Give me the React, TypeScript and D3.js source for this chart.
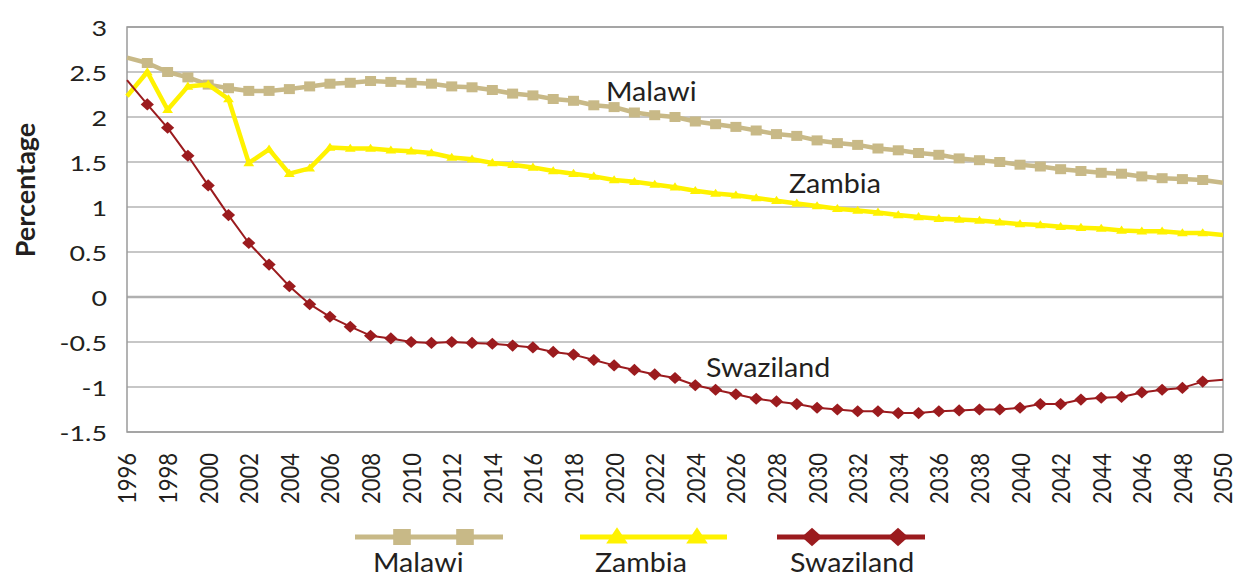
import React from "react";
import * as d3 from "d3";

const years = [
  1996, 1997, 1998, 1999, 2000, 2001, 2002, 2003, 2004, 2005, 2006, 2007, 2008, 2009,
  2010, 2011, 2012, 2013, 2014, 2015, 2016, 2017, 2018, 2019, 2020, 2021, 2022, 2023,
  2024, 2025, 2026, 2027, 2028, 2029, 2030, 2031, 2032, 2033, 2034, 2035, 2036, 2037,
  2038, 2039, 2040, 2041, 2042, 2043, 2044, 2045, 2046, 2047, 2048, 2049, 2050,
];

const malawi = [
  2.66, 2.6, 2.5, 2.44, 2.36, 2.32, 2.29, 2.29, 2.31, 2.34, 2.37, 2.38, 2.4, 2.39,
  2.38, 2.37, 2.34, 2.33, 2.3, 2.26, 2.24, 2.2, 2.18, 2.13, 2.11, 2.05, 2.02, 2.0,
  1.95, 1.92, 1.89, 1.85, 1.81, 1.79, 1.74, 1.71, 1.69, 1.65, 1.63, 1.6, 1.58, 1.54,
  1.52, 1.5, 1.47, 1.45, 1.42, 1.4, 1.38, 1.37, 1.34, 1.32, 1.31, 1.3, 1.27,
];

const zambia = [
  2.23, 2.5, 2.08, 2.34, 2.36, 2.2, 1.49, 1.64, 1.37, 1.43, 1.66, 1.65, 1.65, 1.63,
  1.62, 1.6, 1.55, 1.53, 1.49, 1.47, 1.44, 1.4, 1.37, 1.34, 1.3, 1.28, 1.25, 1.22,
  1.18, 1.15, 1.13, 1.1, 1.07, 1.04, 1.01, 0.98, 0.96, 0.94, 0.91, 0.89, 0.87, 0.86,
  0.85, 0.83, 0.81, 0.8, 0.78, 0.77, 0.76, 0.74, 0.73, 0.73, 0.71, 0.71, 0.69,
];

const swaziland = [
  2.41, 2.14, 1.88, 1.57, 1.24, 0.91, 0.6, 0.36, 0.12, -0.08, -0.22, -0.33, -0.43, -0.46,
  -0.5, -0.51, -0.5, -0.51, -0.52, -0.54, -0.56, -0.61, -0.64, -0.7, -0.76, -0.81, -0.86, -0.9,
  -0.98, -1.03, -1.08, -1.13, -1.16, -1.19, -1.23, -1.25, -1.27, -1.27, -1.29, -1.29, -1.27, -1.26,
  -1.25, -1.25, -1.23, -1.19, -1.19, -1.14, -1.12, -1.11, -1.06, -1.03, -1.01, -0.94, -0.92,
];

const yTicks = [-1.5, -1, -0.5, 0, 0.5, 1, 1.5, 2, 2.5, 3];
const yTickLabels = ["-1.5", "-1", "-0.5", "0", "0.5", "1", "1.5", "2", "2.5", "3"];
const xTickYears = [
  1996, 1998, 2000, 2002, 2004, 2006, 2008, 2010, 2012, 2014, 2016, 2018, 2020, 2022,
  2024, 2026, 2028, 2030, 2032, 2034, 2036, 2038, 2040, 2042, 2044, 2046, 2048, 2050,
];

const seriesNames = ["Malawi", "Zambia", "Swaziland"];

const W = 1234;
const H = 577;
const L = 127;
const R = 1223;
const T = 27;
const B = 432;
const SX = 1.22;
const SXL = 1.1;
const FONT = "Lato, 'Open Sans', sans-serif";
const TEXT = "#231f20";

const COLORS = { Malawi: "#c8b987", Zambia: "#fff200", Swaziland: "#9b1b1e" };

const x = d3.scaleLinear().domain([1996, 2050]).range([L, R]);
const y = d3.scaleLinear().domain([-1.5, 3]).range([B, T]);

function marker(kind: string, cx: number, cy: number, s: number, color: string, key: string) {
  if (kind === "square") {
    return <rect key={key} x={cx - s * 0.55} y={cy - s * 0.5} width={s * 1.1} height={s} fill={color} />;
  }
  if (kind === "triangle") {
    const w = s * 1.2;
    const h = s * 0.9;
    return (
      <path
        key={key}
        d={`M${cx},${cy - h * 0.6}L${cx + w / 2},${cy + h * 0.4}L${cx - w / 2},${cy + h * 0.4}Z`}
        fill={color}
      />
    );
  }
  const w = s * 0.6;
  const h = s * 0.55;
  return (
    <path key={key} d={`M${cx},${cy - h}L${cx + w},${cy}L${cx},${cy + h}L${cx - w},${cy}Z`} fill={color} />
  );
}

export default function App() {
  const line = d3
    .line<number>()
    .x((_, i) => x(years[i]))
    .y((d) => y(d));

  const series = [
    { name: "Malawi", values: malawi, kind: "square", lw: 4.5, ms: 10 },
    { name: "Zambia", values: zambia, kind: "triangle", lw: 4.5, ms: 9 },
    { name: "Swaziland", values: swaziland, kind: "diamond", lw: 2, ms: 11 },
  ];

  const legend = [
    { name: seriesNames[0], x0: 355, x1: 503, m: [402, 465], kind: "square", ms: 16, tx: 373 },
    { name: seriesNames[1], x0: 580, x1: 727, m: [617, 697], kind: "triangle", ms: 18, tx: 595 },
    { name: seriesNames[2], x0: 777, x1: 925, m: [812, 898], kind: "diamond", ms: 17, tx: 790 },
  ];

  const labels = [
    { name: "Malawi", x: 606, y: 101 },
    { name: "Zambia", x: 789, y: 193 },
    { name: "Swaziland", x: 706, y: 377 },
  ];

  return (
    <svg
      width={W}
      height={H}
      style={{ position: "absolute", left: 0, top: 0, background: "#fff" }}
      fontFamily={FONT}
    >
      <rect x={0} y={0} width={W} height={H} fill="#fff" />
      {yTicks.map((t) => (
        <line
          key={"g" + t}
          x1={L}
          x2={R}
          y1={y(t)}
          y2={y(t)}
          stroke={t === 0 ? "#b0b0b0" : "#8f8f8f"}
          strokeWidth={t === 0 ? 2.5 : 1}
        />
      ))}
      <rect x={L} y={T} width={R - L} height={B - T} fill="none" stroke="#9a9a9a" strokeWidth={1.5} />

      {yTicks.map((t, i) => (
        <g key={"yl" + t} transform={`translate(107,${y(t)}) scale(${SX},1)`}>
          <text textAnchor="end" dominantBaseline="central" fontSize={22} fill={TEXT}>
            {yTickLabels[i]}
          </text>
        </g>
      ))}

      {xTickYears.map((yr) => (
        <g key={"xl" + yr} transform={`translate(${x(yr)},453) scale(1.12,1) rotate(-90)`}>
          <text textAnchor="end" dominantBaseline="central" fontSize={22} fill={TEXT}>
            {yr}
          </text>
        </g>
      ))}

      <g transform={`translate(24,190) rotate(-90)`}>
        <text textAnchor="middle" dominantBaseline="central" fontSize={27} fontWeight="bold" fill={TEXT}>
          Percentage
        </text>
      </g>

      {series.map((s) => {
        const c = (COLORS as any)[s.name];
        return (
          <g key={s.name}>
            <path d={line(s.values) || ""} fill="none" stroke={c} strokeWidth={s.lw} strokeLinejoin="round" />
            {s.values.map((v, i) =>
              i === 0 || i === s.values.length - 1
                ? null
                : marker(s.kind, x(years[i]), y(v), s.ms, c, s.name + i)
            )}
          </g>
        );
      })}

      {labels.map((l) => (
        <g key={"lab" + l.name} transform={`translate(${l.x},${l.y}) scale(${SXL},1)`}>
          <text fontSize={26} fill={TEXT}>
            {l.name}
          </text>
        </g>
      ))}

      {legend.map((g) => {
        const c = (COLORS as any)[g.name];
        return (
          <g key={"leg" + g.name}>
            <line x1={g.x0} x2={g.x1} y1={537} y2={537} stroke={c} strokeWidth={5} />
            {g.m.map((mx, j) => marker(g.kind, mx, 537, g.ms, c, g.name + "m" + j))}
            <g transform={`translate(${g.tx},572) scale(${SXL},1)`}>
              <text fontSize={26} fill={TEXT}>
                {g.name}
              </text>
            </g>
          </g>
        );
      })}
    </svg>
  );
}
